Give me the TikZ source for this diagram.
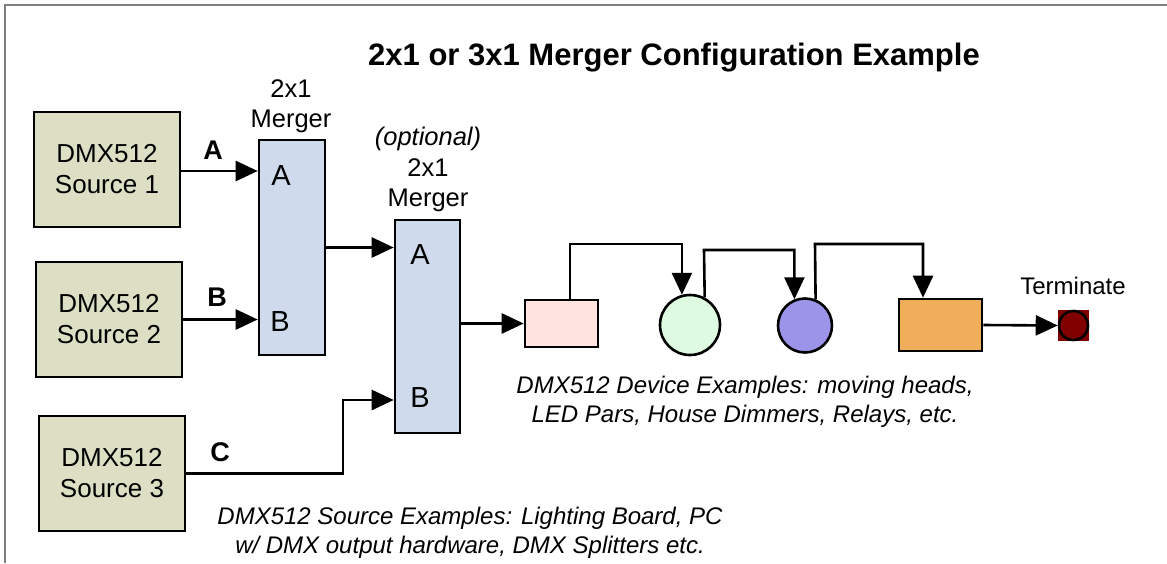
\documentclass[tikz,border=0pt]{standalone}
\usepackage{fontspec}
\setmainfont{Liberation Sans}
\usetikzlibrary{arrows.meta,calc}
\definecolor{srcfill}{RGB}{220,223,196}
\definecolor{mrgfill}{RGB}{207,219,236}
\definecolor{pinkfill}{RGB}{255,228,225}
\definecolor{greenfill}{RGB}{222,250,224}
\definecolor{purplefill}{RGB}{155,148,232}
\definecolor{orangefill}{RGB}{240,173,90}
\definecolor{termfill}{RGB}{128,0,0}
\definecolor{framegray}{RGB}{128,128,128}
\begin{document}
\begin{tikzpicture}[x=1pt,y=-1pt,
  box/.style={draw=black,line width=2.6pt,inner sep=0pt},
  srcbox/.style={box,fill=srcfill,minimum width=146pt,minimum height=115pt,align=center,font=\fontsize{26}{31}\selectfont},
  mrgbox/.style={box,fill=mrgfill},
  arr/.style={line width=2.6pt,-{Triangle[length=22pt,width=20pt]}},
  lbl/.style={font=\fontsize{25.5}{30}\selectfont,align=center,inner sep=0pt},
  blbl/.style={font=\bfseries\fontsize{27}{30}\selectfont,inner sep=0pt},
  inlbl/.style={font=\fontsize{29}{30}\selectfont,inner sep=0pt},
  itxt/.style={font=\itshape\fontsize{24}{29}\selectfont,align=center,inner sep=0pt}]
\useasboundingbox (0,0) rectangle (1167,563);
\draw[framegray,line width=2pt] (5,563) -- (5,5) -- (1167,5);

\node[font=\bfseries\fontsize{31}{34}\selectfont,inner sep=0pt] (title) at (674,58) {2x1 or 3x1 Merger Configuration Example};

\node[srcbox] (s1) at (107,169.5) {DMX512\\Source 1};
\node[srcbox] (s2) at (109,319.5) {DMX512\\Source 2};
\node[srcbox] (s3) at (112,473.5) {DMX512\\Source 3};

\node[mrgbox,minimum width=66pt,minimum height=215pt] (m1) at (292,247.5) {};
\node[mrgbox,minimum width=65pt,minimum height=213pt] (m2) at (427.5,326.5) {};

\node[lbl] (m1lbl) at (291,106) {2x1\\Merger};
\node[lbl] (m2opt) at (428,139) {\itshape (optional)};
\node[lbl] (m2lbl) at (428,185) {2x1\\Merger};

\node[inlbl] (m1a) at (281,176) {A};
\node[inlbl] (m1b) at (280,322) {B};
\node[inlbl] (m2a) at (420,255) {A};
\node[inlbl] (m2b) at (420,398) {B};

\node[blbl] (la) at (213,150) {A};
\node[blbl] (lb) at (217,297) {B};
\node[blbl] (lc) at (220,452) {C};

\draw[arr] (s1.east |- 0,171) -- (m1.west |- 0,171);
\draw[arr] (s2.east) -- (m1.west |- s2.east);
\draw[arr] (m1.east) -- (m2.west |- m1.east);
\coordinate (m2in) at (m2.west |- 0,400);
\draw[arr] (s3.east) -- (343,473.5) |- (m2in);

\node[box,fill=pinkfill,minimum width=73pt,minimum height=47pt] (r1) at (561.5,323.5) {};
\node[box,fill=greenfill,circle,minimum size=60pt] (c1) at (690,325) {};
\node[box,fill=purplefill,circle,minimum size=54pt] (c2) at (805,325.5) {};
\node[box,fill=orangefill,minimum width=83pt,minimum height=52pt] (r2) at (940.5,325) {};
\node[fill=termfill,minimum size=31pt,inner sep=0pt] (tsq) at (1073.5,325.5) {};
\node[draw=black,line width=2.6pt,fill=termfill,circle,minimum size=29pt,inner sep=0pt] (term) at (1073.5,325.5) {};
\node[lbl,font=\fontsize{24}{28}\selectfont] (tlbl) at (1073,286) {Terminate};

\draw[arr] (m2.east |- r1.west) -- (r1.west);
\draw[arr] (r1.north -| 570,0) -- (570,244) -| (c1.105);
\draw[arr] (c1.62) -- (704,250) -| (c2.112);
\draw[arr] (c2.68) -- (815,244) -| (r2.north -| 923,0);
\draw[arr] (r2.east) -- (term.west);

\node[itxt] (devtxt) at (745,402) {DMX512 Device Examples: moving heads,\\LED Pars, House Dimmers, Relays, etc.};
\node[itxt] (srctxt) at (470,533) {DMX512 Source Examples: Lighting Board, PC\\w/ DMX output hardware, DMX Splitters etc.};
\end{tikzpicture}
\end{document}
